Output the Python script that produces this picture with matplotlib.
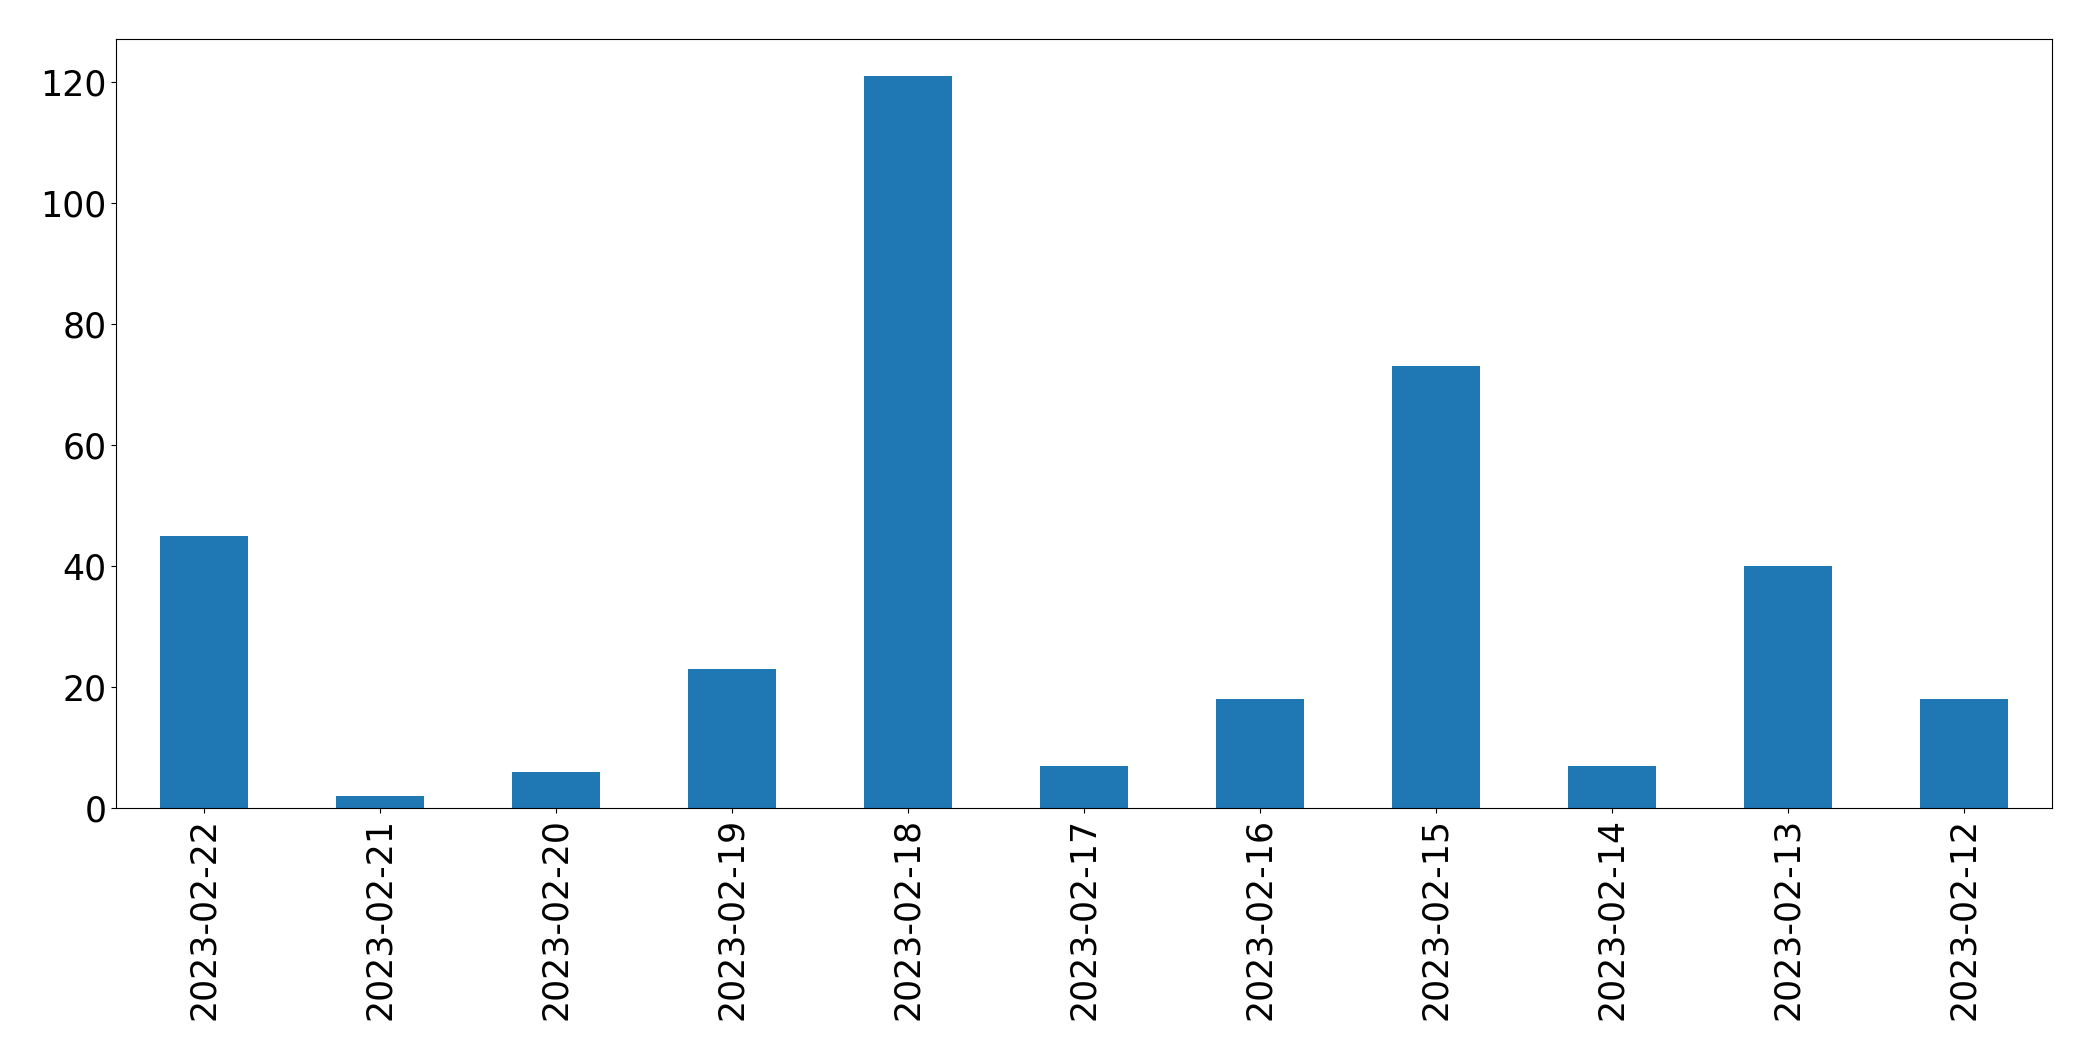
import matplotlib
matplotlib.use("Agg")
import matplotlib.pyplot as plt
import numpy as np

dates = ["2023-02-22", "2023-02-21", "2023-02-20", "2023-02-19", "2023-02-18",
         "2023-02-17", "2023-02-16", "2023-02-15", "2023-02-14", "2023-02-13",
         "2023-02-12"]
counts = [45, 2, 6, 23, 121, 7, 18, 73, 7, 40, 18]

fig = plt.figure(figsize=(20.93, 10.61), dpi=100)
ax = fig.add_axes([116/2093, 1-808/1061, (2052-116)/2093, (808-39)/1061])
x = np.arange(len(dates))
ax.bar(x, counts, width=0.5, color="#1f77b4")
ax.set_xlim(-0.5, len(dates)-0.5)
ax.set_xticks(x)
ax.set_xticklabels(dates, rotation=90, fontsize=25)
ax.tick_params(axis="y", labelsize=25)
ax.set_yticks([0, 20, 40, 60, 80, 100, 120])
fig.savefig("out.png", dpi=100)
